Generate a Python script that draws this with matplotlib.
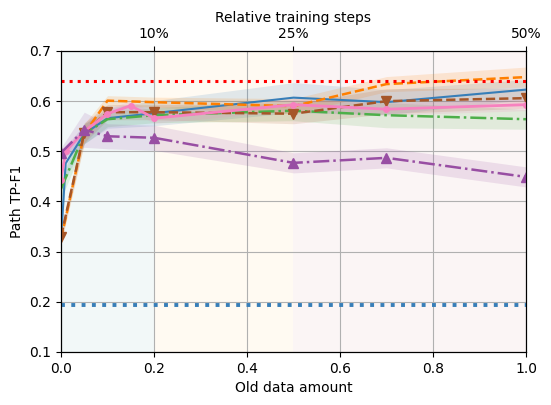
import matplotlib.pyplot as plt
import numpy as np

# x positions (old data amount)
x_main = [0, 0.05, 0.1, 0.2, 0.5, 0.7, 1.0]
x_blue = [0, 0.01, 0.05, 0.1, 0.2, 0.5, 0.7, 1.0]
x_pink = [0, 0.01, 0.05, 0.1, 0.15, 0.2, 0.5, 0.7, 1.0]

# series means / spreads
blue_y = [0.323, 0.476, 0.535, 0.566, 0.576, 0.607, 0.598, 0.623]
blue_sd = [0.02, 0.03, 0.02, 0.02, 0.025, 0.03, 0.025, 0.02]
pink_y = [0.443, 0.500, 0.540, 0.575, 0.591, 0.566, 0.593, 0.584, 0.593]
pink_sd = [0.01, 0.012, 0.012, 0.01, 0.01, 0.01, 0.012, 0.012, 0.012]
green_y = [0.425, 0.535, 0.564, 0.572, 0.581, 0.572, 0.564]
green_sd = [0.02, 0.02, 0.015, 0.015, 0.02, 0.025, 0.02]
orange_y = [0.325, 0.535, 0.601, 0.598, 0.590, 0.634, 0.648]
orange_sd = [0.01, 0.02, 0.01, 0.01, 0.015, 0.015, 0.02]
brown_y = [0.330, 0.537, 0.578, 0.578, 0.575, 0.600, 0.606]
brown_sd = [0.01, 0.02, 0.015, 0.015, 0.02, 0.025, 0.02]
purple_y = [0.497, 0.543, 0.530, 0.527, 0.477, 0.487, 0.449]
purple_sd = [0.01, 0.035, 0.025, 0.025, 0.02, 0.02, 0.02]

upper_ref = 0.64
lower_ref = 0.193

top_ticks = [0.2, 0.5, 1.0]
top_labels = ['10%', '25%', '50%']

fig = plt.figure(figsize=(5.51, 4.05), dpi=100)
ax = fig.add_axes([0.1107, 0.1309, 0.8439, 0.7432])

# background phases
ax.axvspan(0, 0.2, color='teal', alpha=0.05, lw=0, zorder=0)
ax.axvspan(0.2, 0.5, color='orange', alpha=0.05, lw=0, zorder=0)
ax.axvspan(0.5, 1.0, color='firebrick', alpha=0.045, lw=0, zorder=0)

series = [
    (x_blue, blue_y, blue_sd, '#377eb8', '-', None, 1.5, 0),
    (x_main, green_y, green_sd, '#4daf4a', '-.', None, 1.8, 0),
    (x_main, orange_y, orange_sd, '#ff7f00', '--', None, 1.8, 0),
    (x_main, brown_y, brown_sd, '#a65628', '--', 'v', 1.8, 7),
    (x_pink, pink_y, pink_sd, '#f781bf', '-', 'o', 2.0, 4),
    (x_main, purple_y, purple_sd, '#984ea3', '-.', '^', 1.8, 7),
]

for xs, ys, sd, c, ls, mk, lw, ms in series:
    xs = np.array(xs)
    ys = np.array(ys)
    sd = np.array(sd)
    ax.fill_between(xs, ys - sd, ys + sd, color=c, alpha=0.15, lw=0, zorder=2)
    ax.plot(xs, ys, color=c, linestyle=ls, marker=mk, lw=lw, ms=ms, zorder=3)

ax.axhline(upper_ref, color='red', linestyle=':', lw=2.2, zorder=3)
ax.axhline(lower_ref, color='#377eb8', linestyle=':', lw=2.8, zorder=3)

ax.set_xlim(0, 1)
ax.set_ylim(0.1, 0.7)
ax.grid(True, color='#b0b0b0', zorder=1)
ax.set_axisbelow(True)
ax.set_xlabel('Old data amount')
ax.set_ylabel('Path TP-F1')

ax2 = ax.twiny()
ax2.set_xlim(0, 1)
ax2.set_xticks(top_ticks)
ax2.set_xticklabels(top_labels)
ax2.set_xlabel('Relative training steps')

fig.savefig('out.png', dpi=100)
